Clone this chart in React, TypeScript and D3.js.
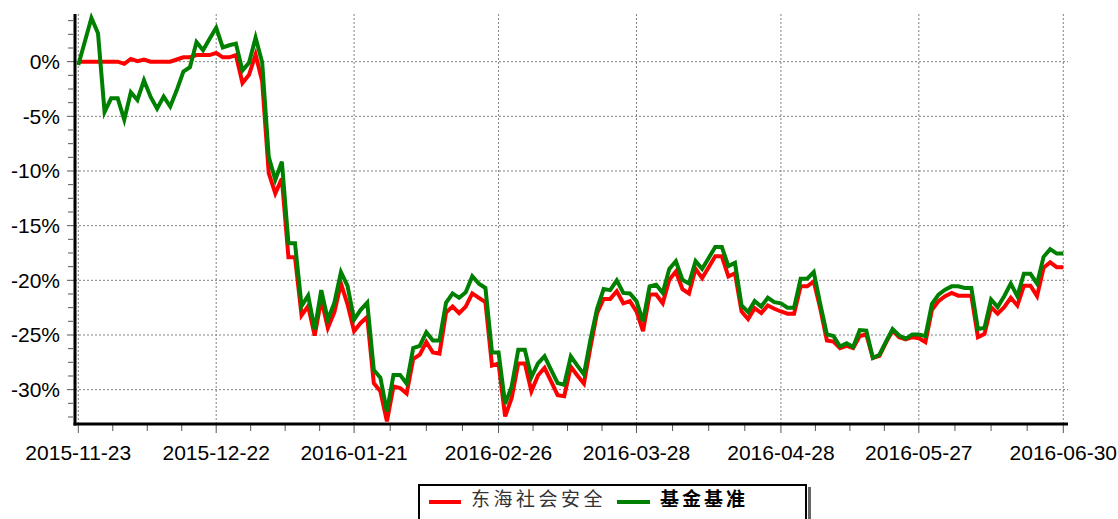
import React from "react";
import * as d3 from "d3";

// x axis labels and the point index each one sits on
const tickLabels = ["2015-11-23", "2015-12-22", "2016-01-21", "2016-02-26", "2016-03-28", "2016-04-28", "2016-05-27", "2016-06-30"];
const tickIndex = [0, 21, 42, 64, 85, 107, 128, 150];

// 东海社会安全 (%)
const fund = [
  0, 0, 0, 0, 0, 0, 0, -0.2, 0.25, 0.05,
  0.2, 0, 0, 0, 0, 0.2, 0.4, 0.4, 0.6, 0.6,
  0.6, 0.8, 0.4, 0.4, 0.6, -1.95, -1.2, 0.65, -1.8, -10.2,
  -12.05, -10.7, -17.9, -17.9, -23.2, -22.35, -25.05, -21.75, -24.35, -22.9,
  -20.3, -22.2, -24.65, -23.9, -23.35, -29.4, -30.15, -32.9, -29.7, -29.85,
  -30.35, -27.2, -26.8, -25.65, -26.6, -26.7, -22.95, -22.4, -23.0, -22.4,
  -21.2, -21.6, -22.0, -27.8, -27.6, -32.45, -30.75, -27.6, -27.6, -30.15,
  -28.7, -28.0, -29.25, -30.5, -30.6, -27.9, -28.7, -29.45, -26.1, -23.0,
  -21.7, -21.7, -21.0, -22.1, -21.9, -22.85, -24.65, -21.3, -21.3, -22.1,
  -19.95, -19.2, -20.8, -21.2, -18.95, -19.8, -18.8, -17.8, -17.8, -19.65,
  -19.35, -22.85, -23.55, -22.55, -23.0, -22.3, -22.6, -22.85, -23.05, -23.05,
  -20.55, -20.55, -20.1, -22.6, -25.5, -25.6, -26.2, -26.0, -26.2, -25.1,
  -24.95, -27.1, -26.9, -25.7, -24.6, -25.2, -25.4, -25.2, -25.3, -25.65,
  -22.7, -21.9, -21.45, -21.15, -21.4, -21.4, -21.4, -25.2, -24.9, -22.45,
  -23.05, -22.45, -21.6, -22.3, -20.5, -20.5, -21.45, -18.85, -18.35, -18.8,
  -18.8,
];

// 基金基准 (%)
const bench = [
  -0.3, 1.85, 4.0, 2.6, -4.6, -3.35, -3.35, -5.3, -2.8, -3.5,
  -1.7, -3.2, -4.3, -3.2, -4.1, -2.6, -0.9, -0.5, 1.8, 1.05,
  2.1, 3.1, 1.3, 1.5, 1.65, -0.8, -0.1, 2.2, -0.05, -8.7,
  -10.8, -9.15, -16.6, -16.6, -22.35, -21.4, -24.5, -20.9, -23.6, -22.05,
  -19.25, -20.5, -23.6, -22.7, -22.05, -28.2, -28.9, -32.0, -28.65, -28.65,
  -29.45, -26.2, -26.0, -24.75, -25.5, -25.5, -22.05, -21.2, -21.6, -21.1,
  -19.63, -20.3, -20.7, -26.6, -26.6, -31.3, -29.7, -26.35, -26.35, -28.85,
  -27.6, -26.95, -28.2, -29.4, -29.55, -26.95, -27.8, -28.6, -25.4, -22.6,
  -20.8, -20.9, -20.0, -21.15, -21.2, -21.9, -23.75, -20.55, -20.4, -21.15,
  -18.95, -18.25, -19.95, -20.3, -18.25, -18.95, -17.95, -16.95, -16.95, -18.7,
  -18.4, -22.3, -22.9, -21.9, -22.4, -21.6, -22.0, -22.1, -22.5, -22.5,
  -19.85, -19.85, -19.25, -22.2, -24.95, -25.1, -26.05, -25.75, -26.1, -24.55,
  -24.6, -27.1, -26.8, -25.6, -24.45, -25.05, -25.35, -24.95, -24.95, -25.1,
  -22.15, -21.3, -20.85, -20.55, -20.55, -20.7, -20.7, -24.45, -24.35, -21.75,
  -22.45, -21.45, -20.3, -21.45, -19.4, -19.4, -20.3, -17.85, -17.15, -17.55,
  -17.55,
];

const yTicks = [0, -5, -10, -15, -20, -25, -30];
const seriesNames = ["东海社会安全", "基金基准"];

export default function App() {
  const W = 1118, H = 519;
  const x = d3.scaleLinear().domain([0, fund.length - 1]).range([78.3, 1063.3]);
  const y = d3.scaleLinear().domain([4.36, -33.05]).range([14, 423]);
  const axisY = 424, axisX = 75, right = 1068;

  const line = d3.line<number>().x((_, i) => x(i)).y(d => y(d));

  // minor ticks at quarters between labelled dates
  const xMinor: number[] = [];
  for (let k = 0; k < tickIndex.length - 1; k++) {
    const a = tickIndex[k], b = tickIndex[k + 1];
    for (let q = 1; q < 4; q++) xMinor.push(a + (b - a) * q / 4);
  }
  const yMinor = d3.range(-32.5, 4.4, 1.25).filter(v => Math.abs(v % 5) > 0.01);

  const font = "Arial, 'Liberation Sans', sans-serif";
  const cjk = "'Noto Sans CJK SC', sans-serif";
  const grid = { stroke: "#808080", strokeWidth: 1, strokeDasharray: "2,2" };

  return (
    <svg width={W} height={H} style={{ position: "absolute", left: 0, top: 0, background: "#fff" }}>
      {/* grid */}
      {yTicks.map(v => (
        <line key={"gy" + v} x1={axisX} x2={right} y1={y(v)} y2={y(v)} {...grid} />
      ))}
      {tickIndex.map(t => (
        <line key={"gx" + t} x1={x(t)} x2={x(t)} y1={14} y2={axisY} {...grid} />
      ))}

      {/* series */}
      <path d={line(fund) || ""} fill="none" stroke="#ff0000" strokeWidth={4} strokeLinejoin="miter" />
      <path d={line(bench) || ""} fill="none" stroke="#008000" strokeWidth={4} strokeLinejoin="miter" />

      {/* y axis */}
      {yTicks.map(v => (
        <g key={"yt" + v}>
          <line x1={67} x2={axisX} y1={y(v)} y2={y(v)} stroke="#555" strokeWidth={1} />
          <text x={60} y={y(v) + 7.5} textAnchor="end" fontFamily={font} fontSize={21} fill="#000">{v}%</text>
        </g>
      ))}
      {yMinor.map(v => (
        <line key={"ym" + v} x1={68} x2={73} y1={y(v)} y2={y(v)} stroke="#555" strokeWidth={1} />
      ))}
      <line x1={axisX} x2={axisX} y1={14} y2={axisY + 1.5} stroke="#000" strokeWidth={3} />

      {/* x axis */}
      {tickIndex.map((t, k) => (
        <g key={"xt" + t}>
          <line x1={x(t)} x2={x(t)} y1={axisY} y2={433} stroke="#555" strokeWidth={1} />
          <text x={x(t)} y={460} textAnchor="middle" fontFamily={font} fontSize={21} fill="#000">{tickLabels[k]}</text>
        </g>
      ))}
      {xMinor.map(t => (
        <line key={"xm" + t} x1={x(t)} x2={x(t)} y1={axisY} y2={431} stroke="#555" strokeWidth={1} />
      ))}
      <line x1={axisX - 1.5} x2={right} y1={axisY} y2={axisY} stroke="#000" strokeWidth={3} />

      {/* legend */}
      <rect x={808} y={487} width={3} height={40} fill="#666" />
      <rect x={419} y={485} width={387} height={40} fill="#fff" stroke="#000" strokeWidth={2} />
      <line x1={429} x2={461} y1={502} y2={502} stroke="#ff0000" strokeWidth={4} />
      <text x={471} y={506} fontFamily={cjk} fontSize={19} letterSpacing={3.5} fill="#333">{seriesNames[0]}</text>
      <line x1={617} x2={650} y1={502} y2={502} stroke="#008000" strokeWidth={4} />
      <text x={660} y={506} fontFamily={cjk} fontSize={19} fontWeight="bold" letterSpacing={3} fill="#000">{seriesNames[1]}</text>
    </svg>
  );
}
